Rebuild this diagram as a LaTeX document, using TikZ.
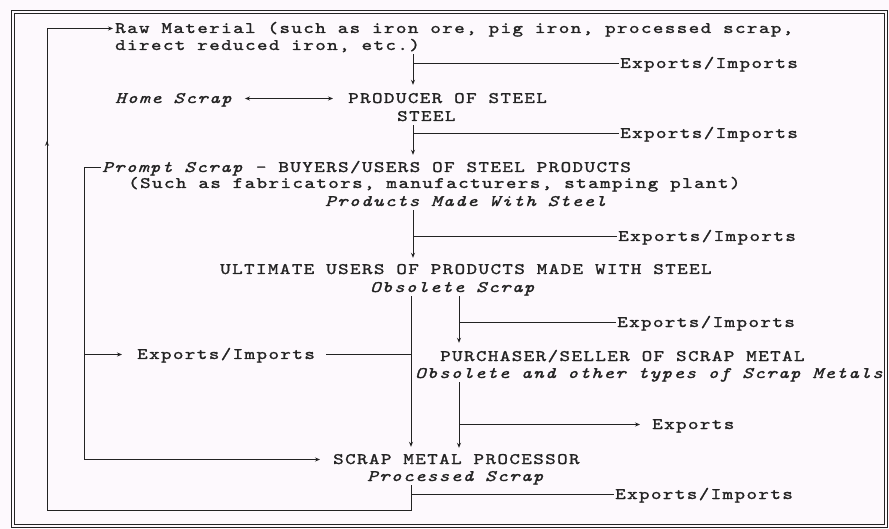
\documentclass[tikz,border=0pt]{standalone}
\usepackage{fontspec}
\newfontfamily\flowfont{lmmono10-regular}[Extension=.otf, ItalicFont=lmmono10-italic, FakeStretch=1.25, LetterSpace=9, FakeBold=1.5]
\usetikzlibrary{arrows.meta,decorations.markings}
\definecolor{paper}{RGB}{253,249,253}
\definecolor{ink}{RGB}{35,35,35}

\begin{document}
\begin{tikzpicture}[x=1pt, y=-1pt, ink,
  txt/.style = {anchor=base west, inner sep=1pt, text height=12pt, text depth=3pt, text=ink, font=\flowfont\fontsize{16}{16}\selectfont},
  it/.style = {txt, font=\flowfont\itshape\fontsize{16}{16}\selectfont},
  ln/.style = {line width=0.9pt},
  arr/.style = {ln, -{Stealth[length=5pt,width=4pt]}},
  twoway/.style = {ln, {Stealth[length=5pt,width=4pt]}-{Stealth[length=5pt,width=4pt]}},
  feed/.style = {arr, shorten >=4pt}]
\fill[paper] (0,0) rectangle (889,529);
\useasboundingbox (0,0) rectangle (889,529);
\draw[ln] (11,10) rectangle (887,527);
\draw[ln] (14,13) rectangle (884,524);
% spines
\coordinate (s0) at (84,0);
\coordinate (s1) at (413,0);
\coordinate (s3) at (411,0);
\coordinate (s4) at (459,0);
\coordinate (lb) at (47,510);
% main chain
\node[txt] (raw1) at (114,33) {Raw Material (such as iron ore, pig iron, processed scrap,};
\node[txt] (raw2) at (114,50) {direct reduced iron, etc.)};
\node[it] (home) at (114,103) {Home Scrap};
\node[txt] (prod) at (347,103) {PRODUCER OF STEEL};
\node[txt] (steel) at (396,121) {STEEL};
\node[txt] (prompt) at (101,172) {\textit{Prompt Scrap} - BUYERS/USERS OF STEEL PRODUCTS};
\node[txt] (such) at (127,188) {(Such as fabricators, manufacturers, stamping plant)};
\node[it] (made) at (324,206) {Products Made With Steel};
\node[txt] (ult) at (219,274) {ULTIMATE USERS OF PRODUCTS MADE WITH STEEL};
\node[it] (obs) at (369,292) {Obsolete Scrap};
\node[txt] (purch) at (439,361) {PURCHASER/SELLER OF SCRAP METAL};
\node[it] (obsall) at (414,378) {Obsolete and other types of Scrap Metals};
\node[txt] (proc) at (332,464) {SCRAP METAL PROCESSOR};
\node[it] (procd) at (366,481) {Processed Scrap};
% trade
\node[txt] (xraw) at (619,68) {Exports/Imports};
\node[txt] (xsteel) at (619,138) {Exports/Imports};
\node[txt] (xprod) at (617,241) {Exports/Imports};
\node[txt] (xobs) at (616,327) {Exports/Imports};
\node[txt] (xleft) at (136,359) {Exports/Imports};
\node[txt] (xpurch) at (651,429) {Exports};
\node[txt] (xproc) at (614,499) {Exports/Imports};

\draw[feed, shorten >=5pt] (raw2.south -| s1) -- (prod.north -| s1);
\draw[ln] (xraw.west -| s1) -- (xraw.west);
\draw[twoway, shorten <=12pt, shorten >=14pt] (home.east) -- (prod.west);
\draw[feed] (steel.south -| s1) -- (prompt.north -| s1);
\draw[ln] (xsteel.west -| s1) -- (xsteel.west);
\draw[feed, shorten >=3pt] (made.south -| s1) -- (ult.north -| s1);
\draw[ln] (xprod.west -| s1) -- (xprod.west);
\draw[feed] (obs.south -| s3) -- (proc.north -| s3);
\draw[feed, shorten >=5pt] (obs.south -| s4) -- (purch.north -| s4);
\draw[ln] (xobs.west -| s4) -- (xobs.west);
\draw[feed, shorten >=3pt] (obsall.south -| s4) -- (proc.north -| s4);
\draw[arr, shorten >=11pt] (xpurch.west -| s4) -- (xpurch.west);
% prompt scrap loop
\draw[arr, shorten >=12pt] (prompt.west) -- (prompt.west -| s0) -- (proc.west -| s0) -- (proc.west);
\draw[arr, shorten >=14pt] (xleft.west -| s0) -- (xleft.west);
\draw[ln, shorten <=10pt] (xleft.east) -- (xleft.east -| s3);
% processed scrap back to raw material
\draw[arr, shorten >=1pt, postaction={decorate}, decoration={markings, mark=at position 758pt with {\arrow{Stealth[length=5pt,width=4pt]}}}]
  (procd.south -| s3) -- (s3 |- lb) -- (lb) -- (lb |- raw1.west) -- (raw1.west);
\draw[ln] (xproc.west -| s3) -- (xproc.west);
\end{tikzpicture}
\end{document}
